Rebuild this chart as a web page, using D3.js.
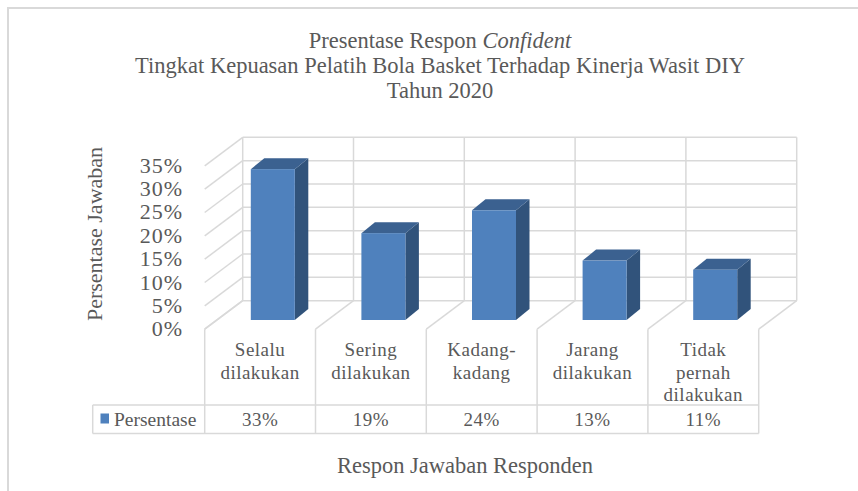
<!DOCTYPE html>
<html>
<head>
<meta charset="utf-8">
<script src="https://cdn.jsdelivr.net/npm/d3@7"></script>
<style>
  body { margin: 0; background: #fff; }
  svg { display: block; }
  text { font-family: "Liberation Serif", "Times New Roman", serif; fill: #595959; }
</style>
</head>
<body>
<svg id="chart" width="858" height="491"></svg>
<script>
// data
var categories = ["Selalu dilakukan", "Sering dilakukan", "Kadang-kadang", "Jarang dilakukan", "Tidak pernah dilakukan"];
var catLines = [["Selalu", "dilakukan"], ["Sering", "dilakukan"], ["Kadang-", "kadang"], ["Jarang", "dilakukan"], ["Tidak", "pernah", "dilakukan"]];
var values = [33, 19, 24, 13, 11];
var valueLabels = ["33%", "19%", "24%", "13%", "11%"];
var yTicks = [0, 5, 10, 15, 20, 25, 30, 35];
var seriesName = "Persentase";

var svg = d3.select("#chart");

// chart area border
svg.append("rect")
    .attr("x", 8).attr("y", 8).attr("width", 870).attr("height", 500)
    .attr("fill", "none").attr("stroke", "#d9d9d9").attr("stroke-width", 2);

// 3d geometry: back wall, depth offset to the front plane
var depthX = -38, depthY = 28.5;
var yBack = d3.scaleLinear().domain([0, 35]).range([300.7, 137.3]);
var xBack = d3.scaleBand().domain(categories).range([242.7, 796.7]);
var xFront = d3.scaleBand().domain(categories).range([242.7 + depthX, 796.7 + depthX]);
// plane the bars stand on
var xBar = d3.scaleBand().domain(categories).range([217.5, 770.5]);
var yBar = d3.scaleLinear().domain([0, 35]).range([320, 160]);
var barW = 44, barDX = 13.5, barDY = -11;

var grid = svg.append("g").attr("stroke", "#d9d9d9").attr("stroke-width", 1.5).attr("fill", "none");

// back wall horizontal lines + left wall diagonals
yTicks.forEach(function(t){
    grid.append("line")
        .attr("x1", xBack.range()[0]).attr("x2", xBack.range()[1])
        .attr("y1", yBack(t)).attr("y2", yBack(t));
    grid.append("line")
        .attr("x1", xBack.range()[0]).attr("y1", yBack(t))
        .attr("x2", xBack.range()[0] + depthX).attr("y2", yBack(t) + depthY);
});

// back wall verticals + floor diagonals
var edges = categories.map(function(c){ return xBack(c); }).concat([xBack.range()[1]]);
edges.forEach(function(x){
    grid.append("line")
        .attr("x1", x).attr("x2", x)
        .attr("y1", yBack(35)).attr("y2", yBack(0));
    grid.append("line")
        .attr("x1", x).attr("y1", yBack(0))
        .attr("x2", x + depthX).attr("y2", yBack(0) + depthY);
});

// y tick labels
svg.append("g").selectAll("text")
    .data(yTicks).enter()
    .append("text")
    .attr("x", 183)
    .attr("y", function(d){ return yBack(d) + depthY + 7; })
    .attr("text-anchor", "end")
    .attr("font-size", 22)
    .attr("letter-spacing", 1)
    .text(function(d){ return d + "%"; });

// bars
var bars = svg.append("g").selectAll("g.bar")
    .data(values).enter()
    .append("g").attr("class", "bar");

bars.each(function(v, i){
    var g = d3.select(this);
    var c = categories[i];
    var x0 = xBar(c) + xBar.bandwidth() / 2 - barW / 2;
    var x1 = x0 + barW;
    var yt = yBar(v), yb = yBar(0);
    g.append("polygon")
        .attr("points", [[x1, yt], [x1 + barDX, yt + barDY], [x1 + barDX, yb + barDY], [x1, yb]].join(" "))
        .attr("fill", "#31537b");
    g.append("polygon")
        .attr("points", [[x0, yt], [x0 + barDX, yt + barDY], [x1 + barDX, yt + barDY], [x1, yt]].join(" "))
        .attr("fill", "#3b6190");
    g.append("rect")
        .attr("x", x0).attr("y", yt)
        .attr("width", barW).attr("height", yb - yt)
        .attr("fill", "#4f81bd");
});

// data table under the floor
var tTop = yBack(0) + depthY, tMid = 405, tBot = 433.5, legendLeft = 92.7;
var tableX0 = xFront.range()[0], tableX1 = xFront.range()[1];
var tbl = svg.append("g").attr("stroke", "#d9d9d9").attr("stroke-width", 1.5).attr("fill", "none");
tbl.append("line").attr("x1", legendLeft).attr("x2", tableX1).attr("y1", tMid).attr("y2", tMid);
tbl.append("line").attr("x1", legendLeft).attr("x2", tableX1).attr("y1", tBot).attr("y2", tBot);
tbl.append("line").attr("x1", legendLeft).attr("x2", legendLeft).attr("y1", tMid).attr("y2", tBot);
categories.map(function(c){ return xFront(c); }).concat([tableX1]).forEach(function(x){
    tbl.append("line").attr("x1", x).attr("x2", x).attr("y1", tTop).attr("y2", tBot);
});

// category labels
var catG = svg.append("g");
categories.forEach(function(c, i){
    var t = catG.append("text")
        .attr("x", xFront(c) + xFront.bandwidth() / 2)
        .attr("y", 356)
        .attr("text-anchor", "middle")
        .attr("font-size", 19)
        .attr("letter-spacing", 0.5);
    catLines[i].forEach(function(line, k){
        t.append("tspan")
            .attr("x", xFront(c) + xFront.bandwidth() / 2)
            .attr("dy", k === 0 ? 0 : 22.5)
            .text(line);
    });
});

// value row
svg.append("g").selectAll("text")
    .data(valueLabels).enter()
    .append("text")
    .attr("x", function(d, i){ return xFront(categories[i]) + xFront.bandwidth() / 2; })
    .attr("y", 425.5)
    .attr("text-anchor", "middle")
    .attr("font-size", 19)
    .attr("letter-spacing", 0.5)
    .text(function(d){ return d; });

// legend key in table
svg.append("rect")
    .attr("x", 100.5).attr("y", 413.5).attr("width", 8.5).attr("height", 10)
    .attr("fill", "#4f81bd");
svg.append("text")
    .attr("x", 114).attr("y", 425.5)
    .attr("font-size", 19.5)
    .text(seriesName);

// titles
var title = svg.append("text")
    .attr("text-anchor", "middle")
    .attr("font-size", 22.5);
title.append("tspan").attr("x", 440).attr("y", 48).text("Presentase Respon ");
title.select("tspan").append("tspan").attr("font-style", "italic").text("Confident");
title.append("tspan").attr("x", 440).attr("y", 72.7).text("Tingkat Kepuasan Pelatih Bola Basket Terhadap Kinerja Wasit DIY");
title.append("tspan").attr("x", 440).attr("y", 97.5).text("Tahun 2020");

svg.append("text")
    .attr("transform", "translate(102,234) rotate(-90)")
    .attr("text-anchor", "middle")
    .attr("font-size", 22)
    .text("Persentase Jawaban");

svg.append("text")
    .attr("x", 465).attr("y", 473)
    .attr("text-anchor", "middle")
    .attr("font-size", 22.5)
    .text("Respon Jawaban Responden");
</script>
</body>
</html>
